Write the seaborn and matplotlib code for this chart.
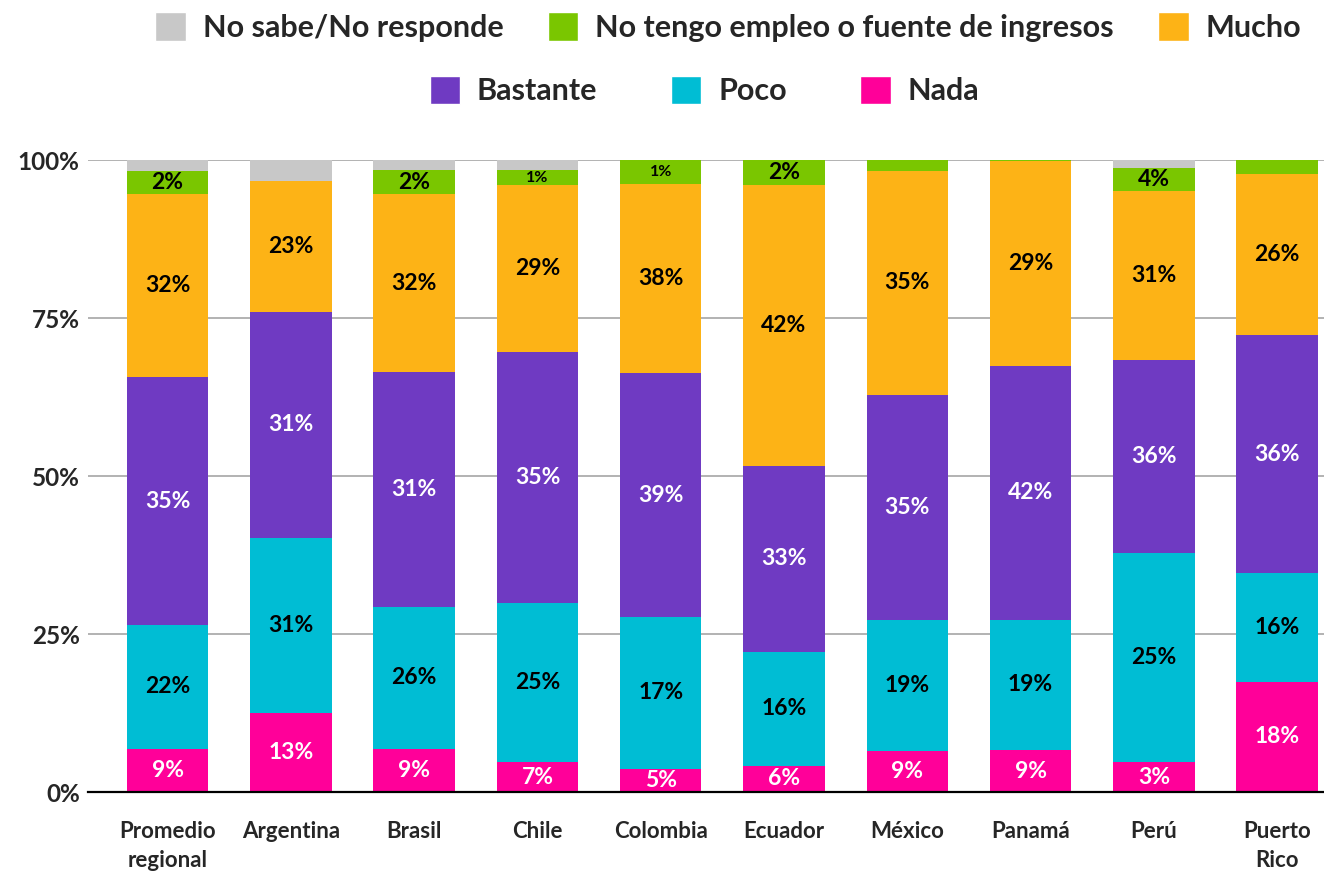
import numpy as np
import seaborn as sns
import matplotlib.pyplot as plt
from matplotlib.patches import Patch

categories = ["Promedio\nregional", "Argentina", "Brasil", "Chile", "Colombia",
              "Ecuador", "México", "Panamá", "Perú", "Puerto\nRico"]

# segment sizes (% of bar height)
nada = [6.9, 12.5, 6.9, 4.8, 3.7, 4.2, 6.5, 6.7, 4.8, 17.5]
poco = [19.6, 27.7, 22.4, 25.1, 24.0, 18.0, 20.7, 20.6, 33.1, 17.2]
bastante = [39.1, 35.8, 37.1, 39.8, 38.6, 29.4, 35.7, 40.1, 30.5, 37.6]
mucho = [29.1, 20.7, 28.2, 26.3, 29.9, 44.4, 35.4, 32.4, 26.7, 25.5]
sin_empleo = [3.6, 0.0, 3.8, 2.4, 3.8, 4.0, 1.7, 0.2, 3.6, 2.2]
no_sabe = [1.7, 3.3, 1.6, 1.6, 0.0, 0.0, 0.0, 0.0, 1.3, 0.0]

# printed labels
lab_nada = ["9%", "13%", "9%", "7%", "5%", "6%", "9%", "9%", "3%", "18%"]
lab_poco = ["22%", "31%", "26%", "25%", "17%", "16%", "19%", "19%", "25%", "16%"]
lab_bastante = ["35%", "31%", "31%", "35%", "39%", "33%", "35%", "42%", "36%", "36%"]
lab_mucho = ["32%", "23%", "32%", "29%", "38%", "42%", "35%", "29%", "31%", "26%"]
lab_sin_empleo = ["2%", "", "2%", "1%", "1%", "2%", "", "", "4%", ""]

names = ["Nada", "Poco", "Bastante", "Mucho",
         "No tengo empleo o fuente de ingresos", "No sabe/No responde"]
colors = ["#FF0099", "#00BDD4", "#6F3AC2", "#FDB316", "#7AC600", "#C8C8C8"]
series = [nada, poco, bastante, mucho, sin_empleo, no_sabe]
labels = [lab_nada, lab_poco, lab_bastante, lab_mucho, lab_sin_empleo, None]
text_colors = ["white", "black", "white", "black", "black", None]

sns.set_style("white")
plt.rcParams["font.family"] = ["Lato", "DejaVu Sans"]

fig = plt.figure(figsize=(13.24, 8.71), dpi=100)
ax = fig.add_axes([0.0665, 0.0904, 0.9335, 0.7259])

cum = np.cumsum(np.array(series), axis=0)

# draw from the top layer down so each cumulative bar covers the one above
for k in range(len(series) - 1, -1, -1):
    sns.barplot(x=categories, y=cum[k], color=colors[k], saturation=1,
                width=0.66, ax=ax, zorder=3, linewidth=0)

for k, labs in enumerate(labels):
    if labs is None:
        continue
    bottoms = cum[k] - np.array(series[k])
    for i, t in enumerate(labs):
        if not t:
            continue
        mid = bottoms[i] + series[k][i] / 2
        fs = 11.5 if t == "1%" else 16.5
        ax.text(i, mid, t, ha="center", va="center", fontsize=fs,
                fontweight="bold", color=text_colors[k], zorder=5)

ax.set_ylim(0, 100)
ax.set_xlim(-0.645, 9.38)
ax.set_yticks([0, 25, 50, 75, 100])
ax.set_yticklabels(["0%", "25%", "50%", "75%", "100%"])
ax.yaxis.grid(True, color="#A6A6A6", linewidth=1.2, zorder=0)
ax.set_axisbelow(True)
for s in ["top", "right", "left"]:
    ax.spines[s].set_visible(False)
ax.spines["bottom"].set_color("black")
ax.spines["bottom"].set_linewidth(1.6)
ax.spines["bottom"].set_zorder(6)
ax.tick_params(axis="y", length=0, pad=6, labelsize=17.5)
ax.tick_params(axis="x", length=0, pad=21, labelsize=16)
for lab in ax.get_xticklabels() + ax.get_yticklabels():
    lab.set_fontweight("bold")
for lab in ax.get_xticklabels():
    lab.set_linespacing(1.45)
ax.set_xlabel("")
ax.set_ylabel("")

row1 = [5, 4, 3]
row2 = [2, 1, 0]
h1 = [Patch(facecolor=colors[k], label=names[k]) for k in row1]
h2 = [Patch(facecolor=colors[k], label=names[k]) for k in row2]
leg_kw = dict(ncol=3, frameon=False, handlelength=1.0, handleheight=1.05,
              handletextpad=0.55, prop={"weight": "bold", "size": 22})
leg1 = fig.legend(handles=h1, loc="center", bbox_to_anchor=(0.55, 0.969),
                  columnspacing=1.45, **leg_kw)
leg2 = fig.legend(handles=h2, loc="center", bbox_to_anchor=(0.532, 0.896),
                  columnspacing=2.4, **leg_kw)

fig.savefig("out.png", dpi=100)
